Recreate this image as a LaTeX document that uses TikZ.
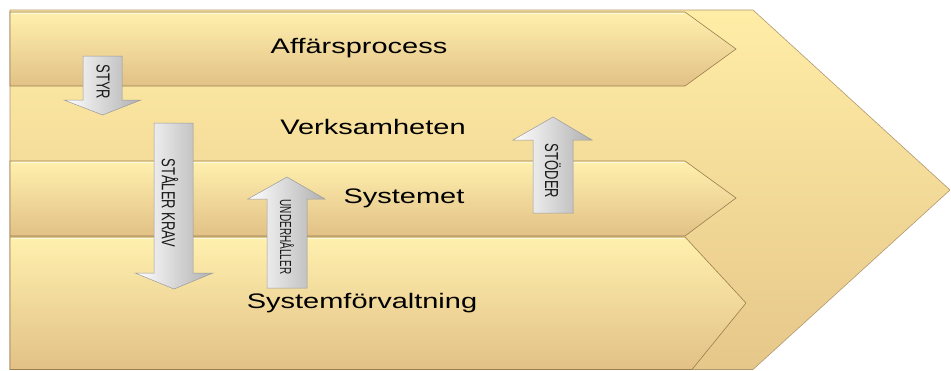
\documentclass[tikz,border=0pt]{standalone}
\usepackage{fontspec}
\newfontfamily\bandfont[FakeStretch=1.38]{Liberation Sans}
\newfontfamily\arrfont{Liberation Sans}
\definecolor{bandtop}{HTML}{FFF0AE}
\definecolor{bandbot}{HTML}{E2C186}
\definecolor{bigtop}{HTML}{FFEDA6}
\definecolor{bigbot}{HTML}{E6C78A}
\definecolor{edgecol}{HTML}{9C7E4E}
\definecolor{arrgray}{HTML}{B0B0B0}
\definecolor{arredge}{HTML}{9A9A9A}
\begin{document}
\begin{tikzpicture}[x=1pt,y=-1pt,
  band/.style={top color=bandtop,bottom color=bandbot,draw=edgecol,line width=0.6pt},
  bigshape/.style={top color=bigtop,bottom color=bigbot,draw=edgecol!80,line width=0.6pt},
  blockarrow/.style={left color=white,right color=arrgray,draw=arredge,line width=0.5pt},
  bandlabel/.style={font=\bandfont\fontsize{21}{24}\selectfont,text=black,inner sep=0pt},
  arrlabel/.style={font=\arrfont\fontsize{13}{15}\selectfont,text=black!90,inner sep=0pt,rotate=-90},
  smalllabel/.style={font=\arrfont\fontsize{10}{12}\selectfont,text=black!90,inner sep=0pt,rotate=-90}]
\useasboundingbox (0,0) rectangle (951,370);
\fill[white] (0,0) rectangle (951,370);
% big chevron
\shade[bigshape] (10,10) -- (753,10) -- (950,190) -- (753,369.5) -- (10,369.5) -- cycle;
% bands
\shade[band] (10,12) -- (685,12) -- (736,49) -- (685,86) -- (10,86) -- cycle;
\shade[band] (10,161) -- (685,161) -- (736,198) -- (685,236) -- (10,236) -- cycle;
\shade[band] (10,237) -- (685,237) -- (746,303) -- (692,369.5) -- (10,369.5) -- cycle;
% highlight lines on tops
\draw[white!60!bandtop,line width=1.2pt] (12,13.5) -- (684,13.5);
\draw[white!60!bandtop,line width=1.2pt] (12,162.5) -- (684,162.5);
\draw[white!60!bandtop,line width=1.2pt] (12,238.5) -- (684,238.5);
% band labels
\node[bandlabel] (aff) at (359,48) {Affärsprocess};
\node[bandlabel] (verk) at (373,127) {Verksamheten};
\node[bandlabel] (sys) at (404,198) {Systemet};
\node[bandlabel] (sysf) at (362,303) {Systemförvaltning};
% arrows
\shade[blockarrow] (83,56) -- (122,56) -- (122,100) -- (141,100) -- (102.5,115) -- (64,100) -- (83,100) -- cycle;
\shade[blockarrow] (154,123) -- (193,123) -- (193,273) -- (213,273) -- (174,289) -- (135,273) -- (154,273) -- cycle;
\shade[blockarrow] (267,288) -- (307,288) -- (307,199) -- (325,199) -- (287,177) -- (248,199) -- (267,199) -- cycle;
\shade[blockarrow] (533,213) -- (573,213) -- (573,140) -- (592,140) -- (553,117) -- (513,140) -- (533,140) -- cycle;
% arrow labels
\node[arrlabel] (styr) at (103,82) {\scalebox{1}[1.45]{STYR}};
\node[arrlabel] (krav) at (170,203) {\scalebox{1}[1.45]{STÅLER KRAV}};
\node[smalllabel] (under) at (287,237) {\scalebox{1}[1.6]{UNDERHÅLLER}};
\node[arrlabel] (stod) at (553,171) {\scalebox{1}[1.45]{STÖDER}};
\end{tikzpicture}
\end{document}
